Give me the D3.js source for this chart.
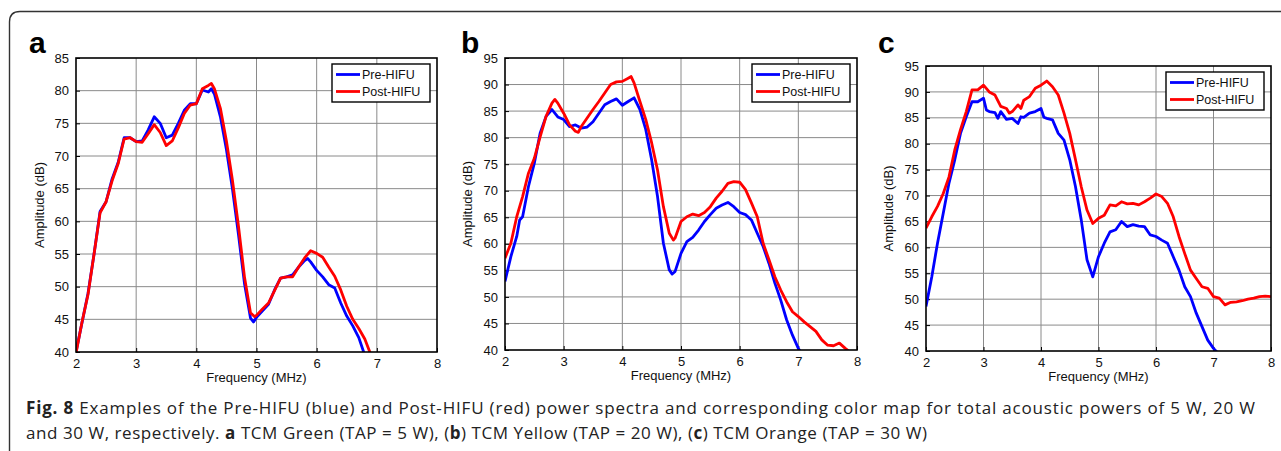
<!DOCTYPE html>
<html>
<head>
<meta charset="utf-8">
<script src="https://cdn.jsdelivr.net/npm/d3@7"></script>
<style>
  body { margin: 0; background: #fff; }
  svg { display: block; }
  .tick text { font-family: "Liberation Sans", Arial, sans-serif; font-size: 13px; fill: #111; }
  .axis-title { font-family: "Liberation Sans", Arial, sans-serif; font-size: 13px; fill: #111; }
  .legend text { font-family: "Liberation Sans", Arial, sans-serif; font-size: 12.5px; fill: #111; }
  .caption { font-family: "Open Sans", sans-serif; font-size: 17px; fill: #222; }
</style>
</head>
<body>
<svg id="fig" width="1281" height="451"></svg>
<script>
// [frequency (MHz), amplitude (dB)]
const preA = [[2.0,40],[2.1,44.5],[2.2,49],[2.3,55],[2.4,61.5],[2.5,63],[2.6,66.5],[2.7,69],[2.8,72.8],[2.9,72.8],
  [3.0,72.2],[3.1,72.3],[3.2,74],[3.3,76],[3.4,75],[3.5,72.8],[3.6,73.2],[3.7,75],[3.8,77],[3.9,78],
  [4.0,78],[4.1,80.1],[4.2,79.8],[4.25,80.3],[4.3,79.5],[4.4,76],[4.5,71],[4.6,65],[4.7,58],[4.8,50.5],[4.9,45.2],[4.95,44.6],
  [5.0,45.3],[5.1,46.3],[5.2,47.3],[5.3,49.5],[5.4,51.3],[5.5,51.5],[5.6,51.8],[5.7,53],[5.8,54],[5.85,54.3],[5.9,53.8],
  [6.0,52.5],[6.1,51.5],[6.2,50.3],[6.3,49.8],[6.4,47.5],[6.5,45.5],[6.6,44],[6.7,42.2],[6.8,39.5]];
const postA = [[2.0,39.8],[2.1,44.6],[2.2,48.8],[2.3,55],[2.4,61.3],[2.5,63],[2.6,66.2],[2.7,68.8],[2.8,72.6],[2.9,72.8],
  [3.0,72.2],[3.1,72.1],[3.2,73.4],[3.3,74.8],[3.4,73.6],[3.5,71.6],[3.6,72.3],[3.7,74.3],[3.8,76.5],[3.9,77.8],
  [4.0,78],[4.1,80.3],[4.2,80.8],[4.25,81.1],[4.3,80.3],[4.4,77.3],[4.5,72.3],[4.6,66.3],[4.7,59.3],[4.8,51.5],[4.9,46],[4.97,45.4],
  [5.0,45.6],[5.1,46.6],[5.2,47.5],[5.3,49.4],[5.4,51.3],[5.5,51.5],[5.6,51.5],[5.7,53],[5.8,54.4],[5.9,55.5],
  [6.0,55.1],[6.1,54.5],[6.2,53],[6.3,51.6],[6.4,49.5],[6.5,47],[6.6,45],[6.7,43.6],[6.8,42],[6.9,39.6]];

const preB = [[2.0,52.9],[2.1,57.6],[2.2,61.4],[2.25,64.5],[2.3,65.1],[2.4,70.8],[2.5,75.2],[2.6,80.9],[2.7,84],[2.8,85.3],[2.9,83.9],
  [3.0,83.4],[3.1,82.1],[3.2,82.4],[3.3,81.8],[3.4,82],[3.5,83],[3.6,84.6],[3.7,86.2],[3.8,86.8],[3.9,87.3],
  [4.0,86.1],[4.1,86.8],[4.2,87.5],[4.3,85.3],[4.4,81.5],[4.5,75.8],[4.6,68.9],[4.7,60.1],[4.8,55.1],[4.85,54.3],[4.9,54.8],
  [5.0,58.2],[5.1,60.4],[5.2,61.2],[5.3,62.6],[5.4,64.2],[5.5,65.5],[5.6,66.7],[5.7,67.3],[5.8,67.8],[5.9,67],
  [6.0,65.9],[6.1,65.5],[6.2,64.5],[6.3,62],[6.4,59.5],[6.5,56.3],[6.6,52.6],[6.7,49.4],[6.8,45.7],[6.9,42.8],[7.0,40.3],[7.03,39.8]];
const postB = [[2.0,57.3],[2.1,60.1],[2.2,65.1],[2.3,68.9],[2.4,73.3],[2.5,76.1],[2.6,80.2],[2.7,84],[2.8,86.5],[2.85,87.2],[2.9,86.5],
  [3.0,84.6],[3.1,82.4],[3.2,81.2],[3.25,81],[3.3,82.1],[3.4,83.7],[3.5,85.3],[3.6,86.8],[3.7,88.4],[3.8,90],[3.9,90.5],
  [4.0,90.6],[4.1,91.2],[4.15,91.5],[4.2,90.3],[4.3,86.8],[4.4,83.4],[4.5,79],[4.6,73.9],[4.7,67],[4.8,62],[4.87,60.7],[4.9,61.1],
  [5.0,64.2],[5.1,65.1],[5.2,65.6],[5.3,65.3],[5.4,65.9],[5.5,67],[5.6,68.6],[5.7,69.9],[5.8,71.4],[5.9,71.7],
  [6.0,71.6],[6.1,70.2],[6.2,67.7],[6.3,65.1],[6.4,60.1],[6.5,57],[6.6,53.8],[6.7,51.3],[6.8,49.1],[6.9,47.2],
  [7.0,46.3],[7.1,45.3],[7.2,44.4],[7.3,43.5],[7.4,41.9],[7.5,40.9],[7.6,40.8],[7.7,41.3],[7.8,40.3],[7.86,39.8]];

const preC = [[2.0,48.6],[2.1,54.3],[2.2,60.8],[2.3,66.6],[2.4,72.4],[2.5,76.9],[2.6,82],[2.7,85.2],[2.8,88.1],[2.9,88.1],
  [3.0,88.8],[3.05,86.5],[3.1,86.2],[3.2,86],[3.25,84.9],[3.3,86.2],[3.4,84.7],[3.5,84.9],[3.6,83.9],[3.65,85.2],[3.7,85.1],[3.8,85.9],[3.9,86.2],
  [4.0,86.8],[4.05,85.1],[4.1,84.9],[4.2,84.6],[4.3,82],[4.4,80.7],[4.5,76.9],[4.6,71.7],[4.7,65.3],[4.8,57.6],[4.9,54.3],
  [5.0,58.2],[5.1,60.8],[5.2,63],[5.3,63.4],[5.4,65],[5.5,64],[5.6,64.4],[5.7,64.1],[5.8,64],[5.9,62.4],
  [6.0,62.1],[6.1,61.4],[6.2,60.8],[6.3,58.2],[6.4,55.6],[6.5,52.4],[6.6,50.5],[6.7,47.3],[6.8,44.7],[6.9,42.1],[7.0,40.5],[7.06,39.8]];
const postC = [[2.0,63.7],[2.1,65.9],[2.2,67.9],[2.3,70.4],[2.4,73.6],[2.5,78.8],[2.6,82.7],[2.7,86.2],[2.8,90.4],[2.9,90.4],
  [3.0,91.3],[3.1,90],[3.2,89.4],[3.3,87.2],[3.4,86.8],[3.45,85.9],[3.5,86.2],[3.6,87.5],[3.65,86.8],[3.7,88.4],[3.8,89.1],[3.9,90.7],
  [4.0,91.3],[4.1,92.1],[4.2,91],[4.3,89.4],[4.4,85.9],[4.5,82],[4.6,76.9],[4.7,71.7],[4.8,67.2],[4.9,64.6],
  [5.0,65.6],[5.1,66.2],[5.2,68.2],[5.3,68],[5.4,68.8],[5.5,68.4],[5.6,68.5],[5.7,68.2],[5.8,68.8],[5.9,69.5],
  [6.0,70.3],[6.1,69.8],[6.2,68.5],[6.3,65.9],[6.4,62.1],[6.5,58.8],[6.6,55.6],[6.7,54],[6.8,52.4],[6.9,52.1],
  [7.0,50.5],[7.1,50.2],[7.2,48.9],[7.3,49.4],[7.4,49.5],[7.5,49.7],[7.6,50],[7.7,50.2],[7.8,50.5],[7.9,50.6],[8.0,50.5]];

const panelLetters = ["a", "b", "c"];
const xTicks = [2, 3, 4, 5, 6, 7, 8];
const yTicksA = [40, 45, 50, 55, 60, 65, 70, 75, 80, 85];
const yTicksBC = [40, 45, 50, 55, 60, 65, 70, 75, 80, 85, 90, 95];
const seriesNames = ["Pre-HIFU", "Post-HIFU"];
const seriesColors = ["#0000ff", "#ff0000"];
const captionLines = [
  [["Fig. 8", true], [" Examples of the Pre-HIFU (blue) and Post-HIFU (red) power spectra and corresponding color map for total acoustic powers of 5 W, 20 W", false]],
  [["and 30 W, respectively. ", false], ["a", true], [" TCM Green (TAP = 5 W), (", false], ["b", true], [") TCM Yellow (TAP = 20 W), (", false], ["c", true], [") TCM Orange (TAP = 30 W)", false]]
];
const captionWidths = [1229, 901];

// layout of each panel (pixels)
const panels = [
  { letter: panelLetters[0], left: 76, top: 58, width: 361, height: 294, yTicks: yTicksA, series: [preA, postA], letterX: 29, ytitleX: 40 },
  { letter: panelLetters[1], left: 505, top: 58, width: 352, height: 292, yTicks: yTicksBC, series: [preB, postB], letterX: 461, ytitleX: 468 },
  { letter: panelLetters[2], left: 926, top: 66, width: 345, height: 285, yTicks: yTicksBC, series: [preC, postC], letterX: 878, ytitleX: 889 }
];

const svg = d3.select("#fig");

// outer frame with rounded top-left corner
svg.append("path")
  .attr("d", "M9.5,460 L9.5,22 Q9.5,11.5 20,11.5 L1290,11.5")
  .attr("fill", "none")
  .attr("stroke", "#333")
  .attr("stroke-width", 1.4);

panels.forEach((p, i) => {
  const x = d3.scaleLinear().domain([2, 8]).range([0, p.width]);
  const y = d3.scaleLinear().domain(d3.extent(p.yTicks)).range([p.height, 0]);

  const g = svg.append("g").attr("transform", `translate(${p.left},${p.top})`);

  g.append("clipPath").attr("id", "clip" + i)
    .append("rect").attr("width", p.width).attr("height", p.height);

  // grid
  g.append("g").selectAll("line").data(xTicks.slice(1, -1)).enter().append("line")
    .attr("x1", d => x(d)).attr("x2", d => x(d)).attr("y1", 0).attr("y2", p.height)
    .attr("stroke", "#8a8a8a").attr("stroke-width", 1);
  g.append("g").selectAll("line").data(p.yTicks.slice(1, -1)).enter().append("line")
    .attr("y1", d => y(d)).attr("y2", d => y(d)).attr("x1", 0).attr("x2", p.width)
    .attr("stroke", "#8a8a8a").attr("stroke-width", 1);

  // axes (ticks pointing inward like Matlab)
  const xAxis = g.append("g").attr("transform", `translate(0,${p.height})`)
    .call(d3.axisBottom(x).tickValues(xTicks).tickSize(-4).tickPadding(7).tickFormat(d3.format("d")));
  const yAxis = g.append("g")
    .call(d3.axisLeft(y).tickValues(p.yTicks).tickSize(-4).tickPadding(7).tickFormat(d3.format("d")));
  [xAxis, yAxis].forEach(a => {
    a.select(".domain").remove();
    a.selectAll(".tick line").attr("stroke", "#000");
  });

  // lines
  const line = d3.line().x(d => x(d[0])).y(d => y(d[1]));
  g.append("g").attr("clip-path", `url(#clip${i})`)
    .selectAll("path").data(p.series).enter().append("path")
    .attr("d", line)
    .attr("fill", "none")
    .attr("stroke", (d, k) => seriesColors[k])
    .attr("stroke-width", 2.8)
    .attr("stroke-linejoin", "round");

  // box
  g.append("rect").attr("width", p.width).attr("height", p.height)
    .attr("fill", "none").attr("stroke", "#000").attr("stroke-width", 1.6);

  // legend
  const lg = g.append("g").attr("class", "legend")
    .attr("transform", `translate(${p.width - 105},6)`);
  lg.append("rect").attr("width", 98).attr("height", 38)
    .attr("fill", "#fff").attr("stroke", "#000").attr("stroke-width", 1.4);
  seriesNames.forEach((name, k) => {
    const yy = 10.5 + k * 17;
    lg.append("line").attr("x1", 4).attr("x2", 28).attr("y1", yy).attr("y2", yy)
      .attr("stroke", seriesColors[k]).attr("stroke-width", 2.8);
    lg.append("text").attr("x", 30).attr("y", yy + 4.5).text(name);
  });

  // axis titles
  g.append("text").attr("class", "axis-title")
    .attr("x", p.width / 2).attr("y", p.height + 30)
    .attr("text-anchor", "middle").text("Frequency (MHz)");
  svg.append("text").attr("class", "axis-title")
    .attr("transform", `translate(${p.ytitleX + 4},${p.top + p.height / 2}) rotate(-90)`)
    .attr("text-anchor", "middle").text("Amplitude (dB)");

  // panel letter
  svg.append("text")
    .attr("x", p.letterX).attr("y", 53)
    .attr("font-family", "Liberation Sans, Arial, sans-serif")
    .attr("font-weight", "bold").attr("font-size", 30)
    .text(p.letter);
});

// caption
captionLines.forEach((parts, li) => {
  const t = svg.append("text").attr("class", "caption")
    .attr("x", 26).attr("y", 414 + li * 25)
    .attr("textLength", captionWidths[li])
    .attr("lengthAdjust", "spacing");
  parts.forEach(([s, bold]) => {
    t.append("tspan").attr("font-weight", bold ? "bold" : null).text(s);
  });
});
</script>
</body>
</html>
